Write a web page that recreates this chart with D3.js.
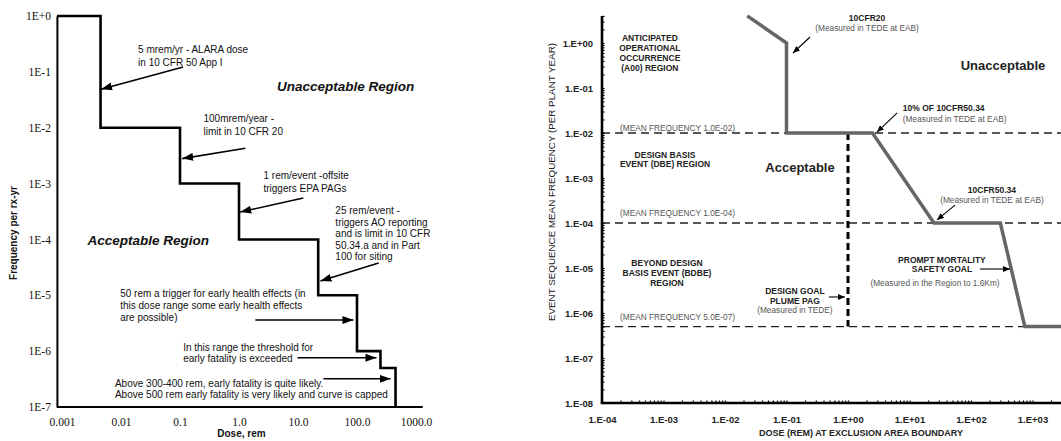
<!DOCTYPE html>
<html>
<head>
<meta charset="utf-8">
<script src="https://cdn.jsdelivr.net/npm/d3@7"></script>
<style>
  body { margin: 0; background: #fff; }
  svg { display: block; background: #fff; }
  .serif { font-family: 'Liberation Serif', 'Times New Roman', serif; }
  .sans { font-family: 'Liberation Sans', Arial, sans-serif; }
</style>
</head>
<body>
<svg id="chart" width="1061" height="441"></svg>
<script>
/* ~~~~~~~~~ LEFT CHART DATA ~~~~~~~~~ */
// step curve: dose (rem) where each step ends, and the frequency it drops to
var leftDoses = [0.00082, 0.0045, 0.1, 1, 22, 100, 250, 450];
var leftFreqs = [1, 1e-2, 1e-3, 1e-4, 1e-5, 1e-6, 5e-7, 1e-7];
var leftAxisMaxDose = 1300;

var leftYTicks = [1, 1e-1, 1e-2, 1e-3, 1e-4, 1e-5, 1e-6, 1e-7];
var leftYLabels = ["1E+0", "1E-1", "1E-2", "1E-3", "1E-4", "1E-5", "1E-6", "1E-7"];
var leftXTicks = [0.001, 0.01, 0.1, 1, 10, 100, 1000];
var leftXLabels = ["0.001", "0.01", "0.1", "1.0", "10.0", "100.0", "1000.0"];

var leftNotes = [
  {at: [0.0195, 0.22], lh: 13, lines: ["5 mrem/yr - ALARA dose", "in 10 CFR 50 App I"]},
  {at: [0.25, 0.0125], lh: 12.5, lines: ["100mrem/year -", "limit in 10 CFR 20"]},
  {at: [2.6, 0.0012], lh: 13, lines: ["1 rem/event -offsite", "triggers EPA PAGs"]},
  {at: [43, 2.8e-4], lh: 11.5, lines: ["25 rem/event -", "triggers AO reporting", "and is limit in 10 CFR", "50.34.a and in Part", "100 for siting"]},
  {at: [0.0097, 9.3e-6], lh: 12, lines: ["50 rem a trigger for early health effects (in", "this dose range some early health effects", "are possible)"]},
  {at: [0.113, 1.0e-6], lh: 11, lines: ["In this range the threshold for", "early fatality is exceeded"]},
  {at: [0.0079, 2.3e-7], lh: 11, lines: ["Above 300-400 rem, early fatality is quite likely.", "Above 500 rem early fatality is very likely and curve is capped"]}
];
var leftRegions = [
  {at: [64, 0.045], text: "Unacceptable Region"},
  {at: [0.029, 7.9e-5], text: "Acceptable Region"}
];
// [tail, head] in [dose, frequency]
var leftArrows = [
  [[0.113, 0.122], [0.0046, 0.049]],
  [[1.28, 0.0043], [0.109, 0.0028]],
  [[12.3, 5.5e-4], [1.05, 3.1e-4]],
  [[232, 3.8e-5], [24, 1.8e-5]],
  [[1.89, 3.6e-6], [87, 3.6e-6]],
  [[9.8, 7.6e-7], [214, 7.6e-7]],
  [[27, 3.2e-7], [371, 3.2e-7]]
];

/* ~~~~~~~~~ RIGHT CHART DATA ~~~~~~~~~ */
var rightCurveDoses = [0.023, 0.1, 0.1, 2.5, 25, 300, 750, 3000];
var rightCurveFreqs = [4, 1, 1e-2, 1e-2, 1e-4, 1e-4, 5e-7, 5e-7];
var rightLimitFreqs = [1e-2, 1e-4, 5e-7];
var plumeDose = 1;
var rightTopFreq = 4;
var rightMaxDose = 3000;

var rightYTicks = [1, 1e-1, 1e-2, 1e-3, 1e-4, 1e-5, 1e-6, 1e-7, 1e-8];
var rightYLabels = ["1.E+00", "1.E-01", "1.E-02", "1.E-03", "1.E-04", "1.E-05", "1.E-06", "1.E-07", "1.E-08"];
var rightXTicks = [1e-4, 1e-3, 1e-2, 1e-1, 1, 10, 100, 1000];
var rightXLabels = ["1.E-04", "1.E-03", "1.E-02", "1.E-01", "1.E+00", "1.E+01", "1.E+02", "1.E+03"];

// b = bold label, g = grey note
var rightNotes = [
  {at: [6.0e-4, 1.1], anchor: "middle", lh: 10, lines: [["b", "ANTICIPATED"], ["b", "OPERATIONAL"], ["b", "OCCURRENCE"], ["b", "(A00) REGION"]]},
  {at: [1.96e-4, 0.0111], anchor: "start", lh: 10, lines: [["g", "(MEAN FREQUENCY 1.0E-02)"]]},
  {at: [1.06e-3, 2.8e-3], anchor: "middle", lh: 9.5, lines: [["b", "DESIGN BASIS"], ["b", "EVENT (DBE) REGION"]]},
  {at: [1.96e-4, 1.43e-4], anchor: "start", lh: 10, lines: [["g", "(MEAN FREQUENCY 1.0E-04)"]]},
  {at: [1.14e-3, 1.1e-5], anchor: "middle", lh: 10, lines: [["b", "BEYOND DESIGN"], ["b", "BASIS EVENT (BDBE)"], ["b", "REGION"]]},
  {at: [1.96e-4, 7.0e-7], anchor: "start", lh: 10, lines: [["g", "(MEAN FREQUENCY 5.0E-07)"]]},
  {at: [2.04, 3.08], anchor: "middle", lh: 10, lines: [["b", "10CFR20"], ["g", "(Measured in TEDE at EAB)"]]},
  {at: [7.8, 0.0308], anchor: "start", lh: 11, lines: [["b", "10% OF 10CFR50.34"], ["g", "(Measured in TEDE at EAB)"]]},
  {at: [219, 4.6e-4], anchor: "middle", lh: 10, lines: [["b", "10CFR50.34"], ["g", "(Measured in TEDE at EAB)"]]},
  {at: [33.7, 1.3e-5], anchor: "middle", lh: 9, lines: [["b", "PROMPT MORTALITY"], ["b", "SAFETY GOAL"]]},
  {at: [26, 4.0e-6], anchor: "middle", lh: 10, lines: [["g", "(Measured  in the Region to 1.6Km)"]]},
  {at: [0.137, 2.6e-6], anchor: "middle", lh: 9.5, lines: [["b", "DESIGN GOAL"], ["b", "PLUME PAG"], ["g", "(Measured in TEDE)"]]}
];
var rightRegions = [
  {at: [0.166, 1.36e-3], text: "Acceptable"},
  {at: [331, 0.25], text: "Unacceptable"}
];
var rightArrows = [
  [[0.241, 1.36], [0.128, 0.6]],
  [[6.3, 0.028], [2.96, 0.0105]],
  [[55, 2.5e-4], [28, 1.17e-4]],
  [[140, 9.5e-6], [430, 9.5e-6]],
  [[0.49, 2.27e-6], [0.89, 2.27e-6]]
];

var svg = d3.select("#chart");

/* ---- arrow heads ---- */
var defs = svg.append("defs");
defs.append("marker").attr("id", "headBig")
  .attr("markerUnits", "userSpaceOnUse").attr("markerWidth", 12).attr("markerHeight", 8)
  .attr("refX", 11).attr("refY", 4).attr("orient", "auto")
  .append("path").attr("d", "M0,0 L11,4 L0,8 Z").attr("fill", "#000");
defs.append("marker").attr("id", "headSmall")
  .attr("markerUnits", "userSpaceOnUse").attr("markerWidth", 8).attr("markerHeight", 6)
  .attr("refX", 7).attr("refY", 3).attr("orient", "auto")
  .append("path").attr("d", "M0,0 L7,3 L0,6 Z").attr("fill", "#000");

/* ~~~~~~~~~ LEFT CHART ~~~~~~~~~ */
var xL = d3.scaleLog().domain([1e-3, 1e3]).range([62, 416]);
var yL = d3.scaleLog().domain([1, 1e-7]).range([16, 407]);
var left = svg.append("g").attr("class", "left");

left.append("g")
  .attr("transform", "translate(" + xL(leftDoses[0]) + ",0)")
  .call(d3.axisLeft(yL).tickValues(leftYTicks).tickSize(0).tickPadding(6)
    .tickFormat(function(d, i){ return leftYLabels[i]; }))
  .call(function(g){ g.select(".domain").attr("stroke", "#000").attr("stroke-width", 2); })
  .call(function(g){ g.selectAll("text").attr("class", "serif").attr("font-size", 11.5).attr("fill", "#111"); });

left.append("g")
  .attr("transform", "translate(0," + yL(1e-7) + ")")
  .call(d3.axisBottom(xL).tickValues(leftXTicks).tickSize(0).tickPadding(11)
    .tickFormat(function(d, i){ return leftXLabels[i]; }))
  .call(function(g){ g.select(".domain").remove(); })
  .call(function(g){ g.selectAll("text").attr("class", "serif").attr("font-size", 11.5).attr("fill", "#111"); });

left.append("line")
  .attr("x1", xL(leftDoses[0])).attr("x2", xL(leftAxisMaxDose))
  .attr("y1", yL(1e-7)).attr("y2", yL(1e-7))
  .attr("stroke", "#000").attr("stroke-width", 2.2);

var stepLine = d3.line().curve(d3.curveStepAfter)
  .x(function(d){ return xL(d[0]); }).y(function(d){ return yL(d[1]); });
left.append("path")
  .datum(d3.zip(leftDoses, leftFreqs))
  .attr("d", stepLine)
  .attr("fill", "none").attr("stroke", "#000").attr("stroke-width", 2.6);

left.append("text").attr("class", "sans")
  .attr("transform", "translate(13,233) rotate(-90)")
  .attr("text-anchor", "middle").attr("dy", "0.35em")
  .attr("font-size", 10).attr("font-weight", "bold").attr("fill", "#111")
  .text("Frequency per rx-yr");

left.append("text").attr("class", "sans")
  .attr("x", xL(1.1)).attr("y", 437)
  .attr("text-anchor", "middle").attr("font-size", 10).attr("font-weight", "bold").attr("fill", "#111")
  .text("Dose, rem");

leftNotes.forEach(function(n){
  var t = left.append("text").attr("class", "sans").attr("font-size", 10).attr("fill", "#111");
  n.lines.forEach(function(l, i){
    t.append("tspan").attr("x", xL(n.at[0])).attr("y", yL(n.at[1]) + i * n.lh).text(l);
  });
});
leftRegions.forEach(function(r){
  left.append("text").attr("class", "sans")
    .attr("x", xL(r.at[0])).attr("y", yL(r.at[1]))
    .attr("text-anchor", "middle").attr("font-size", 13.5)
    .attr("font-weight", "bold").attr("font-style", "italic").attr("fill", "#111")
    .text(r.text);
});
left.selectAll("line.arrow").data(leftArrows).enter().append("line")
  .attr("class", "arrow")
  .attr("x1", function(d){ return xL(d[0][0]); }).attr("y1", function(d){ return yL(d[0][1]); })
  .attr("x2", function(d){ return xL(d[1][0]); }).attr("y2", function(d){ return yL(d[1][1]); })
  .attr("stroke", "#000").attr("stroke-width", 1.6)
  .attr("marker-end", "url(#headBig)");

/* ~~~~~~~~~ RIGHT CHART ~~~~~~~~~ */
var xR = d3.scaleLog().domain([1e-4, 1e3]).range([602, 1032.5]);
var yR = d3.scaleLog().domain([1, 1e-8]).range([43, 403]);
var right = svg.append("g").attr("class", "right");

// limit lines
right.selectAll("line.limit").data(rightLimitFreqs).enter().append("line")
  .attr("class", "limit")
  .attr("x1", xR(1e-4)).attr("x2", xR(rightMaxDose))
  .attr("y1", function(d){ return yR(d); }).attr("y2", function(d){ return yR(d); })
  .attr("stroke", "#222").attr("stroke-width", 1.3).attr("stroke-dasharray", "8,5");

// plume PAG line
right.append("line")
  .attr("x1", xR(plumeDose)).attr("x2", xR(plumeDose))
  .attr("y1", yR(rightLimitFreqs[0])).attr("y2", yR(rightLimitFreqs[2]))
  .attr("stroke", "#000").attr("stroke-width", 3).attr("stroke-dasharray", "7,4");

// limit curve
var curve = d3.line().x(function(d){ return xR(d[0]); }).y(function(d){ return yR(d[1]); });
right.append("path")
  .datum(d3.zip(rightCurveDoses, rightCurveFreqs))
  .attr("d", curve)
  .attr("fill", "none").attr("stroke", "#666").attr("stroke-width", 3.5).attr("stroke-linejoin", "miter");

// minor ticks (log subdivisions), drawn inside the frame
var minorY = [], minorX = [];
d3.range(-8, 1).forEach(function(e){ d3.range(1, 10).forEach(function(k){ var v = k * Math.pow(10, e); if (v <= rightTopFreq) minorY.push(v); }); });
d3.range(-4, 4).forEach(function(e){ d3.range(1, 10).forEach(function(k){ var v = k * Math.pow(10, e); if (v <= rightMaxDose) minorX.push(v); }); });

right.append("g").attr("transform", "translate(" + xR(1e-4) + ",0)")
  .call(d3.axisRight(yR).tickValues(minorY).tickSize(2.5).tickFormat(""))
  .call(function(g){ g.select(".domain").remove(); g.selectAll("line").attr("stroke", "#000").attr("stroke-width", 1.2); });
right.append("g").attr("transform", "translate(0," + yR(1e-8) + ")")
  .call(d3.axisTop(xR).tickValues(minorX).tickSize(2.5).tickFormat(""))
  .call(function(g){ g.select(".domain").remove(); g.selectAll("line").attr("stroke", "#000").attr("stroke-width", 1.2); });

// major axes with labels
right.append("g").attr("transform", "translate(" + xR(1e-4) + ",0)")
  .call(d3.axisLeft(yR).tickValues(rightYTicks).tickSize(0).tickPadding(9)
    .tickFormat(function(d, i){ return rightYLabels[i]; }))
  .call(function(g){ g.select(".domain").remove(); })
  .call(function(g){ g.selectAll("text").attr("class", "sans").attr("font-size", 9.5).attr("font-weight", "bold").attr("fill", "#222"); });
right.append("g").attr("transform", "translate(0," + yR(1e-8) + ")")
  .call(d3.axisBottom(xR).tickValues(rightXTicks).tickSize(0).tickPadding(13)
    .tickFormat(function(d, i){ return rightXLabels[i]; }))
  .call(function(g){ g.select(".domain").remove(); })
  .call(function(g){ g.selectAll("text").attr("class", "sans").attr("font-size", 9.5).attr("font-weight", "bold").attr("fill", "#222"); });

right.append("line")
  .attr("x1", xR(1e-4)).attr("x2", xR(1e-4))
  .attr("y1", yR(rightTopFreq)).attr("y2", yR(1e-8))
  .attr("stroke", "#000").attr("stroke-width", 2.6);
right.append("line")
  .attr("x1", xR(1e-4) - 1.3).attr("x2", xR(rightMaxDose))
  .attr("y1", yR(1e-8)).attr("y2", yR(1e-8))
  .attr("stroke", "#000").attr("stroke-width", 2.6);

right.append("text").attr("class", "sans")
  .attr("transform", "translate(552,182) rotate(-90)")
  .attr("text-anchor", "middle").attr("dy", "0.35em")
  .attr("font-size", 9.8).attr("fill", "#222")
  .text("EVENT SEQUENCE MEAN FREQUENCY (PER PLANT YEAR)");
right.append("text").attr("class", "sans")
  .attr("x", 861).attr("y", 436)
  .attr("text-anchor", "middle").attr("font-size", 9).attr("font-weight", "bold").attr("fill", "#222")
  .text("DOSE (REM) AT EXCLUSION AREA BOUNDARY");

rightNotes.forEach(function(n){
  var t = right.append("text").attr("class", "sans").attr("text-anchor", n.anchor);
  n.lines.forEach(function(l, i){
    t.append("tspan").attr("x", xR(n.at[0])).attr("y", yR(n.at[1]) + i * n.lh)
      .attr("font-size", l[0] === "b" ? 8.5 : 8.3)
      .attr("font-weight", l[0] === "b" ? "bold" : "normal")
      .attr("fill", l[0] === "b" ? "#222" : "#555")
      .text(l[1]);
  });
});
rightRegions.forEach(function(r){
  right.append("text").attr("class", "sans")
    .attr("x", xR(r.at[0])).attr("y", yR(r.at[1]))
    .attr("text-anchor", "middle").attr("font-size", 13).attr("font-weight", "bold").attr("fill", "#222")
    .text(r.text);
});
right.selectAll("line.arrow").data(rightArrows).enter().append("line")
  .attr("class", "arrow")
  .attr("x1", function(d){ return xR(d[0][0]); }).attr("y1", function(d){ return yR(d[0][1]); })
  .attr("x2", function(d){ return xR(d[1][0]); }).attr("y2", function(d){ return yR(d[1][1]); })
  .attr("stroke", "#000").attr("stroke-width", 1.1)
  .attr("marker-end", "url(#headSmall)");
</script>
</body>
</html>
